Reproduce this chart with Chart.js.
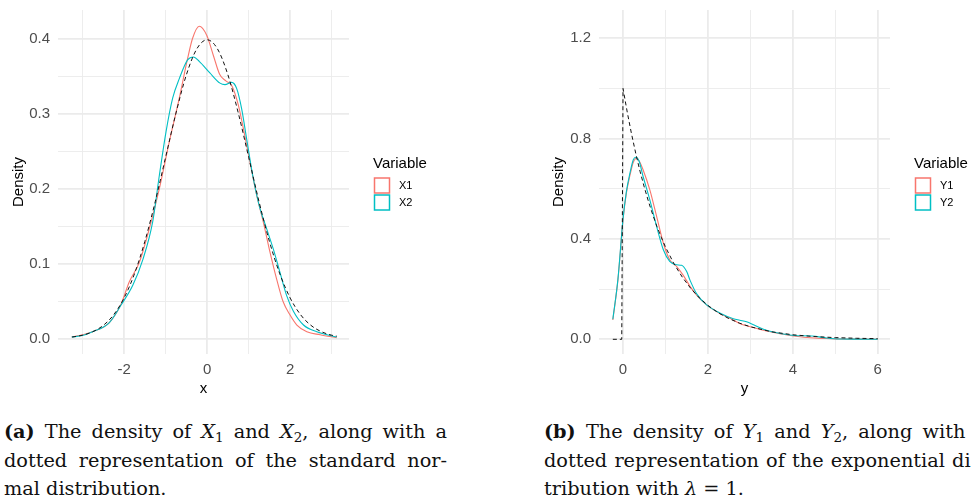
<!DOCTYPE html>
<html>
<head>
<meta charset="utf-8">
<script src="https://cdn.jsdelivr.net/npm/chart.js@4.4.1/dist/chart.umd.min.js"></script>
<style>
  html, body { margin: 0; padding: 0; width: 971px; height: 504px; overflow: hidden; background: #fff; }
  canvas { position: absolute; top: 0; }
  #chartX { left: 0; }
  #chartY { left: 540px; }
  .caption { position: absolute; top: 418px; width: 443px; font-family: 'DejaVu Serif', serif; font-size: 19.3px; color: #111; }
  .caption div { height: 28.7px; line-height: 28.7px; white-space: nowrap; }
  .caption .just { text-align: justify; text-align-last: justify; }
  .caption sub { font-size: 70%; vertical-align: baseline; position: relative; top: 0.3em; line-height: 0; }
  #capA { left: 4px; }
  #capB { left: 544px; }
</style>
</head>
<body>
<canvas id="chartX" width="440" height="400"></canvas>
<canvas id="chartY" width="431" height="400"></canvas>

<div class="caption" id="capA">
  <div class="just"><b>(a)</b> The density of <i>X</i><sub>1</sub> and <i>X</i><sub>2</sub>, along with a</div>
  <div class="just">dotted representation of the standard nor-</div>
  <div>mal distribution.</div>
</div>
<div class="caption" id="capB">
  <div class="just"><b>(b)</b> The density of <i>Y</i><sub>1</sub> and <i>Y</i><sub>2</sub>, along with a</div>
  <div class="just">dotted representation of the exponential dis-</div>
  <div>tribution with <i>λ</i> = 1.</div>
</div>

<script>
// ---- panel (a): X1, X2 and the standard normal ----
const x1Grid = [-3.26, -3.0, -2.76, -2.36, -2.08, -1.87, -1.63, -1.39, -1.15, -0.91, -0.67, -0.47, -0.35, -0.19, -0.01, 0.15, 0.3, 0.45, 0.6, 0.75, 0.87, 1.03, 1.19, 1.35, 1.51, 1.67, 1.83, 2.0, 2.16, 2.4, 2.72, 3.12];
const x1Density = [0.002, 0.005, 0.009, 0.021, 0.045, 0.076, 0.102, 0.147, 0.2, 0.263, 0.321, 0.374, 0.401, 0.417, 0.405, 0.378, 0.353, 0.344, 0.337, 0.312, 0.281, 0.236, 0.192, 0.156, 0.116, 0.08, 0.049, 0.031, 0.018, 0.009, 0.005, 0.001];

const x2Grid = [-3.26, -3.0, -2.76, -2.36, -2.08, -1.79, -1.55, -1.31, -1.15, -0.99, -0.83, -0.67, -0.47, -0.33, -0.19, 0.06, 0.31, 0.43, 0.59, 0.71, 0.83, 0.95, 1.11, 1.27, 1.43, 1.59, 1.75, 1.91, 2.08, 2.32, 2.64, 3.12];
const x2Density = [0.002, 0.004, 0.009, 0.021, 0.044, 0.071, 0.105, 0.156, 0.218, 0.276, 0.321, 0.347, 0.372, 0.376, 0.37, 0.355, 0.341, 0.339, 0.342, 0.334, 0.307, 0.267, 0.214, 0.174, 0.147, 0.12, 0.089, 0.058, 0.036, 0.018, 0.009, 0.002];

const normGrid = [-3.25, -3, -2.75, -2.5, -2.25, -2, -1.75, -1.5, -1.25, -1, -0.75, -0.5, -0.25, 0, 0.25, 0.5, 0.75, 1, 1.25, 1.5, 1.75, 2, 2.25, 2.5, 2.75, 3, 3.12];
const normDensity = [0.002, 0.0044, 0.0091, 0.0175, 0.0317, 0.054, 0.0863, 0.1295, 0.1826, 0.242, 0.3011, 0.3521, 0.3867, 0.3989, 0.3867, 0.3521, 0.3011, 0.242, 0.1826, 0.1295, 0.0863, 0.054, 0.0317, 0.0175, 0.0091, 0.0044, 0.0031];

const xTickValues = [-3, -2, -1, 0, 1, 2, 3];
const xTickLabels = ['', '-2', '', '0', '', '2', ''];
const xDensTickValues = [0, 0.05, 0.1, 0.15, 0.2, 0.25, 0.3, 0.35, 0.4];
const xDensTickLabels = ['0.0', '', '0.1', '', '0.2', '', '0.3', '', '0.4'];

// ---- panel (b): Y1, Y2 and the exponential with rate 1 ----
const y1Grid = [-0.24, -0.12, 0.0, 0.08, 0.16, 0.24, 0.32, 0.4, 0.47, 0.63, 0.79, 0.95, 1.1, 1.26, 1.42, 1.58, 1.74, 1.97, 2.29, 2.6, 2.75, 3.0, 3.38, 3.78, 4.03, 4.5, 4.8, 5.1, 5.5, 6.0];
const y1Density = [0.077, 0.237, 0.477, 0.584, 0.651, 0.705, 0.722, 0.705, 0.677, 0.597, 0.491, 0.384, 0.317, 0.291, 0.255, 0.211, 0.175, 0.137, 0.102, 0.077, 0.063, 0.05, 0.033, 0.02, 0.013, 0.005, 0.003, 0.001, 0.0005, 0.0];

const y2Grid = [-0.24, -0.12, 0.0, 0.08, 0.16, 0.24, 0.3, 0.38, 0.47, 0.63, 0.79, 0.95, 1.1, 1.26, 1.38, 1.5, 1.58, 1.74, 1.97, 2.29, 2.6, 2.75, 2.91, 3.1, 3.38, 3.78, 4.03, 4.45, 4.8, 5.1, 5.5, 6.0];
const y2Density = [0.08, 0.24, 0.48, 0.59, 0.66, 0.715, 0.726, 0.71, 0.651, 0.557, 0.451, 0.357, 0.311, 0.297, 0.295, 0.27, 0.235, 0.18, 0.137, 0.104, 0.082, 0.076, 0.07, 0.056, 0.036, 0.021, 0.015, 0.013, 0.005, 0.001, 0.0005, 0.0];

const expGrid = [-0.24, -0.03, 0, 0.1, 0.2, 0.3, 0.4, 0.5, 0.6, 0.7, 0.8, 0.9, 1.0, 1.2, 1.4, 1.6, 1.8, 2.0, 2.25, 2.5, 2.75, 3, 3.5, 4, 4.5, 5, 5.5, 6];
const expDensity = [0, 0, 1, 0.905, 0.819, 0.741, 0.67, 0.607, 0.549, 0.497, 0.449, 0.407, 0.368, 0.301, 0.247, 0.202, 0.165, 0.135, 0.105, 0.082, 0.064, 0.05, 0.03, 0.018, 0.011, 0.0067, 0.0041, 0.0025];

const yTickValues = [0, 1, 2, 3, 4, 5, 6];
const yTickLabels = ['0', '', '2', '', '4', '', '6'];
const yDensTickValues = [0, 0.2, 0.4, 0.6, 0.8, 1.0, 1.2];
const yDensTickLabels = ['0.0', '', '0.4', '', '0.8', '', '1.2'];

const RED = '#F8766D';
const CYAN = '#00BFC4';
const SANS = "'Liberation Sans', Arial, sans-serif";

function toPoints(xs, ys) {
  return xs.map((x, i) => ({ x, y: ys[i] }));
}

// legend at the right of the panel: title, outlined keys, labels
const sideLegend = {
  id: 'sideLegend',
  afterDraw(chart, args, opts) {
    const { ctx, chartArea } = chart;
    const x0 = chartArea.right + 24;
    ctx.save();
    ctx.fillStyle = '#000';
    ctx.textBaseline = 'middle';
    ctx.textAlign = 'left';
    ctx.font = '15px ' + SANS;
    ctx.fillText(opts.title, x0, 164);
    opts.items.forEach((item, i) => {
      const top = 178 + i * 17;
      ctx.strokeStyle = item.color;
      ctx.lineWidth = 1.5;
      ctx.strokeRect(x0 + 1.5, top, 15, 15);
      ctx.font = '11px ' + SANS;
      ctx.fillText(item.label, x0 + 26, top + 8);
    });
    ctx.restore();
  }
};

function axisTicks(values, labels) {
  return {
    afterBuildTicks: (axis) => { axis.ticks = values.map(v => ({ value: v })); },
    ticks: {
      autoSkip: false,
      maxRotation: 0,
      color: '#4D4D4D',
      font: { family: SANS, size: 15 },
      callback: (v, i) => labels[i]
    },
    grid: {
      drawTicks: false,
      color: '#EBEBEB',
      lineWidth: (c) => (labels[c.index] ? 1.8 : 0.9)
    },
    border: { display: false }
  };
}

function densityChart(canvasId, cfg) {
  const xAxis = axisTicks(cfg.xTicks, cfg.xLabels);
  const yAxis = axisTicks(cfg.yTicks, cfg.yLabels);

  return new Chart(document.getElementById(canvasId), {
    type: 'line',
    data: {
      datasets: [
        {
          label: cfg.refName,
          data: cfg.ref,
          borderColor: '#111',
          borderWidth: 1,
          borderDash: [4, 3],
          cubicInterpolationMode: cfg.refSmooth ? 'monotone' : 'default',
          tension: 0
        },
        {
          label: cfg.names[1],
          data: cfg.second,
          borderColor: CYAN,
          borderWidth: 1.1,
          cubicInterpolationMode: 'monotone'
        },
        {
          label: cfg.names[0],
          data: cfg.first,
          borderColor: RED,
          borderWidth: 1.1,
          cubicInterpolationMode: 'monotone'
        }
      ]
    },
    options: {
      responsive: false,
      animation: false,
      devicePixelRatio: 1,
      elements: { point: { radius: 0 } },
      layout: { padding: { top: 10, right: cfg.rightPad, bottom: 0, left: 0 } },
      plugins: {
        legend: { display: false },
        tooltip: { enabled: false },
        sideLegend: {
          title: 'Variable',
          items: [
            { label: cfg.names[0], color: RED },
            { label: cfg.names[1], color: CYAN }
          ]
        }
      },
      scales: {
        x: {
          type: 'linear',
          min: cfg.xMin,
          max: cfg.xMax,
          afterFit: (s) => { s.height = 46; s.paddingLeft = 0; s.paddingRight = 0; },
          ...xAxis,
          ticks: { ...xAxis.ticks, padding: 7 },
          title: {
            display: true,
            text: cfg.xTitle,
            color: '#000',
            font: { family: SANS, size: 15 },
            padding: { top: 0, bottom: 2 }
          }
        },
        y: {
          type: 'linear',
          min: cfg.yMin,
          max: cfg.yMax,
          // fixed axis width; no extra room for the end labels
          afterFit: (s) => { s.width = cfg.leftWidth; s.paddingTop = 0; s.paddingBottom = 0; },
          ...yAxis,
          ticks: { ...yAxis.ticks, padding: 8 },
          title: {
            display: true,
            text: 'Density',
            color: '#000',
            font: { family: SANS, size: 15 },
            padding: { top: 10, bottom: 0 }
          }
        }
      }
    },
    plugins: [sideLegend]
  });
}

densityChart('chartX', {
  names: ['X1', 'X2'],
  refName: 'N(0,1)',
  first: toPoints(x1Grid, x1Density),
  second: toPoints(x2Grid, x2Density),
  ref: toPoints(normGrid, normDensity),
  refSmooth: true,
  xTicks: xTickValues, xLabels: xTickLabels,
  yTicks: xDensTickValues, yLabels: xDensTickLabels,
  xMin: -3.59, xMax: 3.415,
  yMin: -0.0207, yMax: 0.4387,
  xTitle: 'x',
  leftWidth: 58,
  rightPad: 91
});

densityChart('chartY', {
  names: ['Y1', 'Y2'],
  refName: 'Exp(1)',
  first: toPoints(y1Grid, y1Density),
  second: toPoints(y2Grid, y2Density),
  ref: toPoints(expGrid, expDensity),
  refSmooth: false,
  xTicks: yTickValues, xLabels: yTickLabels,
  yTicks: yDensTickValues, yLabels: yDensTickLabels,
  xMin: -0.566, xMax: 6.29,
  yMin: -0.0586, yMax: 1.3127,
  xTitle: 'y',
  leftWidth: 59,
  rightPad: 81
});
</script>
</body>
</html>
